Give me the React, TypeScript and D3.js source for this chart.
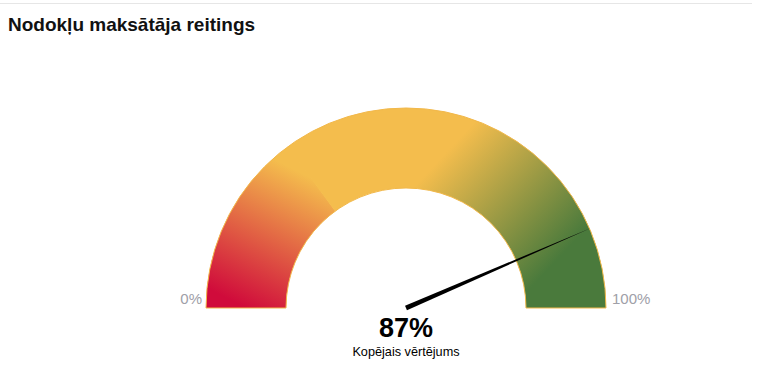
import React, {useRef, useEffect} from 'react';
import * as d3 from "d3";

// gauge data
const gaugeValue = 87;
const gaugeMin = 0;
const gaugeMax = 100;
const bandStops = [0, 30, 50, 100]; // segment edges in %
const gradStops = [[0, 30], [30, 50], [58, 90]]; // where each band's gradient runs
const bandFrom = ["#d00b3b", "#f4bd4d", "#f4bd4d"];
const bandTo = ["#f4bd4d", "#f4bd4d", "#4a7a3c"];
const minLabel = "0%";
const maxLabel = "100%";
const title = "Nodokļu maksātāja reitings";
const subLabel = "Kopējais vērtējums";

function App(){
  const canvas = useRef(null);

  useEffect(() => {
    document.body.style.margin = "0";
    const width = 760, height = 372;
    const cx = 406, cy = 308;
    const rOuter = 200, rInner = 120;
    d3.select(canvas.current).select('svg').remove();

    const svg = d3.select(canvas.current)
      .append("svg")
      .attr("width", width)
      .attr("height", height)
      .style("display", "block")
      .style("font-family", "'Liberation Sans', Arial, sans-serif");

    // top separator
    svg.append("line")
      .attr("x1", 0).attr("x2", 752)
      .attr("y1", 3.5).attr("y2", 3.5)
      .attr("stroke", "#e6e6e6");

    svg.append("text")
      .attr("x", 8).attr("y", 31)
      .style("font-size", "19px")
      .style("font-weight", "bold")
      .attr("fill", "#111")
      .text(title);

    // value -> angle (d3.arc: 0 = top, clockwise)
    const angle = d3.scaleLinear().domain([gaugeMin, gaugeMax]).range([-Math.PI / 2, Math.PI / 2]);
    const arc = d3.arc().innerRadius(rInner).outerRadius(rOuter);

    const defs = svg.append("defs");
    const g = svg.append("g").attr("transform", `translate(${cx},${cy})`);
    const rMid = (rInner + rOuter) / 2;
    const pt = (v) => [Math.sin(angle(v)) * rMid, -Math.cos(angle(v)) * rMid];

    bandFrom.forEach((c, i) => {
      const a = pt(gradStops[i][0]), b = pt(gradStops[i][1]);
      const grad = defs.append("linearGradient")
        .attr("id", "band" + i)
        .attr("gradientUnits", "userSpaceOnUse")
        .attr("x1", a[0]).attr("y1", a[1])
        .attr("x2", b[0]).attr("y2", b[1]);
      grad.append("stop").attr("offset", "0%").attr("stop-color", c);
      grad.append("stop").attr("offset", "100%").attr("stop-color", bandTo[i]);
      g.append("path")
        .attr("d", arc({startAngle: angle(bandStops[i]) - (i > 0 ? 0.005 : 0), endAngle: angle(bandStops[i + 1])}))
        .attr("fill", `url(#band${i})`);
    });

    // thin border
    g.append("path")
      .attr("d", arc({startAngle: angle(gaugeMin), endAngle: angle(gaugeMax)}))
      .attr("fill", "none")
      .attr("stroke", "#f2b84a")
      .attr("stroke-width", 1);

    // needle
    const na = angle(gaugeValue);
    const tip = [Math.sin(na) * (rOuter + 1), -Math.cos(na) * (rOuter + 1)];
    const px = Math.cos(na), py = Math.sin(na);
    const bw = 2.4;
    g.append("path")
      .attr("d", `M${-px * bw},${-py * bw}L${tip[0]},${tip[1]}L${px * bw},${py * bw}Z`)
      .attr("fill", "#000");

    // labels
    svg.append("text")
      .attr("x", cx - rOuter - 4).attr("y", 304)
      .attr("text-anchor", "end")
      .style("font-size", "15px")
      .attr("fill", "#a0a0a8")
      .text(minLabel);
    svg.append("text")
      .attr("x", cx + rOuter + 6).attr("y", 304)
      .attr("text-anchor", "start")
      .style("font-size", "15px")
      .attr("fill", "#a0a0a8")
      .text(maxLabel);

    svg.append("text")
      .attr("x", cx).attr("y", 337)
      .attr("text-anchor", "middle")
      .style("font-size", "27px")
      .style("font-weight", "bold")
      .attr("fill", "#000")
      .text(gaugeValue + "%");
    svg.append("text")
      .attr("x", cx).attr("y", 356)
      .attr("text-anchor", "middle")
      .style("font-size", "12.7px")
      .attr("fill", "#000")
      .text(subLabel);
  }, []);

  return (
    <div ref={canvas}></div>
  );
}

export default App;
